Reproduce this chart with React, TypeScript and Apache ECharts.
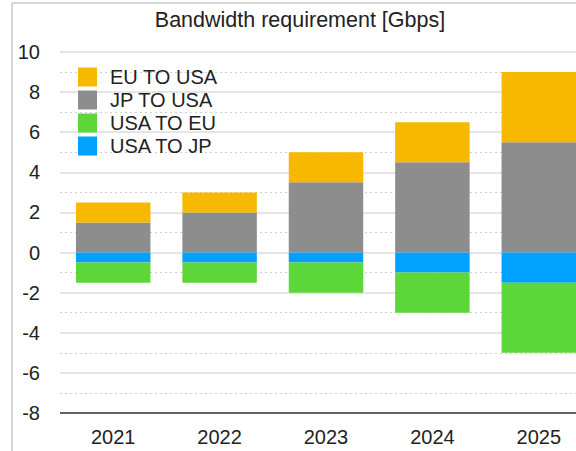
import React, { useEffect, useRef } from "react";
import * as echarts from "echarts";

const years = ["2021", "2022", "2023", "2024", "2025"];
const jpToUsa = [1.5, 2.0, 3.5, 4.5, 5.5];
const euToUsa = [1.0, 1.0, 1.5, 2.0, 3.5];
const usaToJp = [-0.5, -0.5, -0.5, -1.0, -1.5];
const usaToEu = [-1.0, -1.0, -1.5, -2.0, -3.5];
const legendOrder = ["EU TO USA", "JP TO USA", "USA TO EU", "USA TO JP"];

const FONT = "'Liberation Sans', Arial, Helvetica, sans-serif";

export default function App() {
  const ref = useRef<HTMLDivElement>(null);
  useEffect(() => {
    if (!ref.current) return;
    const chart = echarts.init(ref.current, undefined, { renderer: "svg" });
    const bar = (name: string, data: number[], color: string) => ({
      name,
      type: "bar",
      stack: "total",
      data,
      barWidth: "70%",
      itemStyle: { color },
      emphasis: { disabled: true },
    });
    chart.setOption({
      animation: false,
      textStyle: { fontFamily: FONT },
      title: {
        text: "Bandwidth requirement [Gbps]",
        left: 295,
        top: 4,
        textAlign: "center",
        textStyle: { fontSize: 21.5, fontWeight: "normal", color: "#222", fontFamily: FONT },
      },
      legend: {
        data: legendOrder,
        orient: "vertical",
        left: 78,
        top: 67,
        itemWidth: 19,
        itemHeight: 19,
        itemGap: 3,
        icon: "rect",
        padding: 0,
        textStyle: { fontSize: 20, color: "#222", fontFamily: FONT, padding: [0, 0, 0, 8] },
      },
      grid: { left: 60, right: 0, top: 52, bottom: 38, containLabel: false },
      xAxis: {
        type: "category",
        data: years,
        axisTick: { show: false },
        axisLine: { show: false },
        axisLabel: { fontSize: 20, color: "#222", margin: 14, fontFamily: FONT },
      },
      yAxis: {
        type: "value",
        min: -8,
        max: 10,
        interval: 2,
        axisLine: { show: false },
        axisTick: { show: false },
        axisLabel: { fontSize: 20, color: "#222", margin: 20, fontFamily: FONT },
        splitLine: { lineStyle: { color: "#dcdcdc", width: 1.5 } },
        minorTick: { show: false, splitNumber: 2 },
        minorSplitLine: { show: true, lineStyle: { color: "#cfcfcf", type: [2, 3], width: 1 } },
      },
      graphic: [
        { type: "line", shape: { x1: 12, y1: 3, x2: 12, y2: 451 }, style: { stroke: "#c8c8c8", lineWidth: 1.5 } },
        { type: "line", shape: { x1: 12, y1: 3, x2: 592, y2: 3 }, style: { stroke: "#c8c8c8", lineWidth: 1.5 } },
        { type: "line", shape: { x1: 60, y1: 413, x2: 592, y2: 413 }, style: { stroke: "#333", lineWidth: 1.5 }, z: 100 },
      ],
      series: [
        bar("JP TO USA", jpToUsa, "#8E8D8D"),
        bar("EU TO USA", euToUsa, "#F7B800"),
        bar("USA TO JP", usaToJp, "#00A1FF"),
        bar("USA TO EU", usaToEu, "#5DD639"),
      ],
    });
    return () => chart.dispose();
  }, []);
  return (
    <div
      style={{ position: "fixed", left: 0, top: 0, width: 576, height: 451, overflow: "hidden", background: "#fff" }}
    >
      <div ref={ref} style={{ width: 592, height: 451 }} />
    </div>
  );
}
